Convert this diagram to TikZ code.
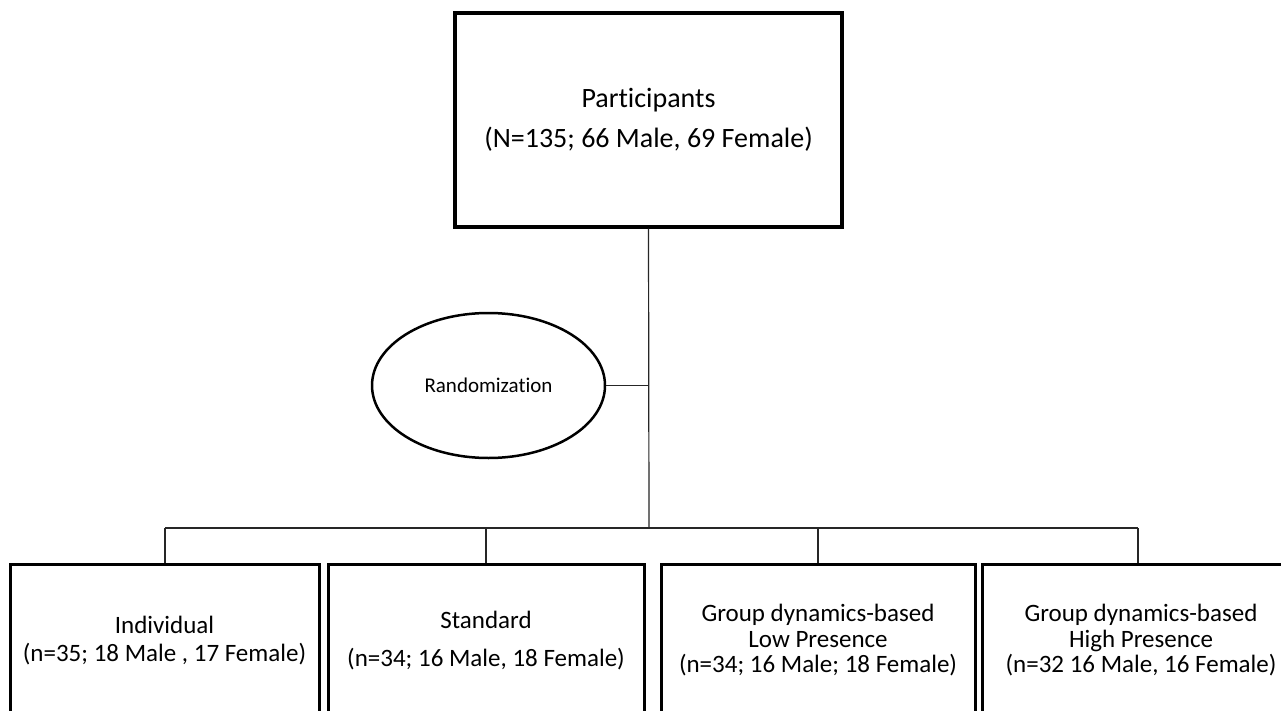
\documentclass[tikz,border=0pt]{standalone}
\usepackage{fontspec}
\setmainfont{Carlito}[Ligatures=NoCommon]
\usetikzlibrary{shapes.geometric}
\begin{document}
\begin{tikzpicture}[x=1pt,y=-1pt,
  topbox/.style={draw=black, line width=3.2pt, inner sep=0pt, align=center,
    minimum width=387pt, minimum height=214pt,
    font=\fontsize{28}{40}\selectfont},
  armbox/.style={draw=black, line width=3pt, inner sep=0pt, align=center,
    minimum width=313pt, minimum height=153pt,
    font=\fontsize{25}{28}\selectfont},
  armboxtight/.style={armbox, font=\fontsize{25}{25.5}\selectfont},
  randell/.style={draw=black, ellipse, line width=2.5pt, inner sep=0pt,
    minimum width=233pt, minimum height=145pt,
    font=\fontsize{21}{25}\selectfont},
  conn/.style={draw=black!85, line width=1.2pt}
]
\useasboundingbox (0,0) rectangle (1281,711);
\clip (0,0) rectangle (1281,711);
\fill[white] (0,0) rectangle (1281,711);

\node[topbox] (top) at (648.5,120) {Participants\\(N=135; 66 Male, 69 Female)};
\node[randell] (rand) at (488.5,385.5) {Randomization};

\node[armbox, minimum width=309pt] (b1) at (164.5,640.5) {Individual\\(n=35; 18 Male , 17 Female)};
\node[armbox, minimum width=316pt] (b2) at (486,640.5) {Standard\\[10pt](n=34; 16 Male, 18 Female)};
\node[armboxtight, minimum width=314pt] (b3) at (818,640.5) {Group dynamics-based\\Low Presence\\(n=34; 16 Male; 18 Female)};
\node[armboxtight, minimum width=318pt] (b4) at (1141,640.5) {Group dynamics-based\\High Presence\\(n=32 16 Male, 16 Female)};

\coordinate (bus) at (649,528);
\coordinate (busL) at (165,528);
\coordinate (busR) at (1138,528);

\draw[conn] (top.south) -- (bus);
\draw[conn] (rand.east) -- (rand.east -| bus);
\draw[conn] (busL) -- (busR);
\draw[conn] (busL) -- (busL |- b1.north);
\draw[conn] (b2.north |- bus) -- (b2.north);
\draw[conn] (b3.north |- bus) -- (b3.north);
\draw[conn] (busR) -- (busR |- b4.north);
\end{tikzpicture}
\end{document}
